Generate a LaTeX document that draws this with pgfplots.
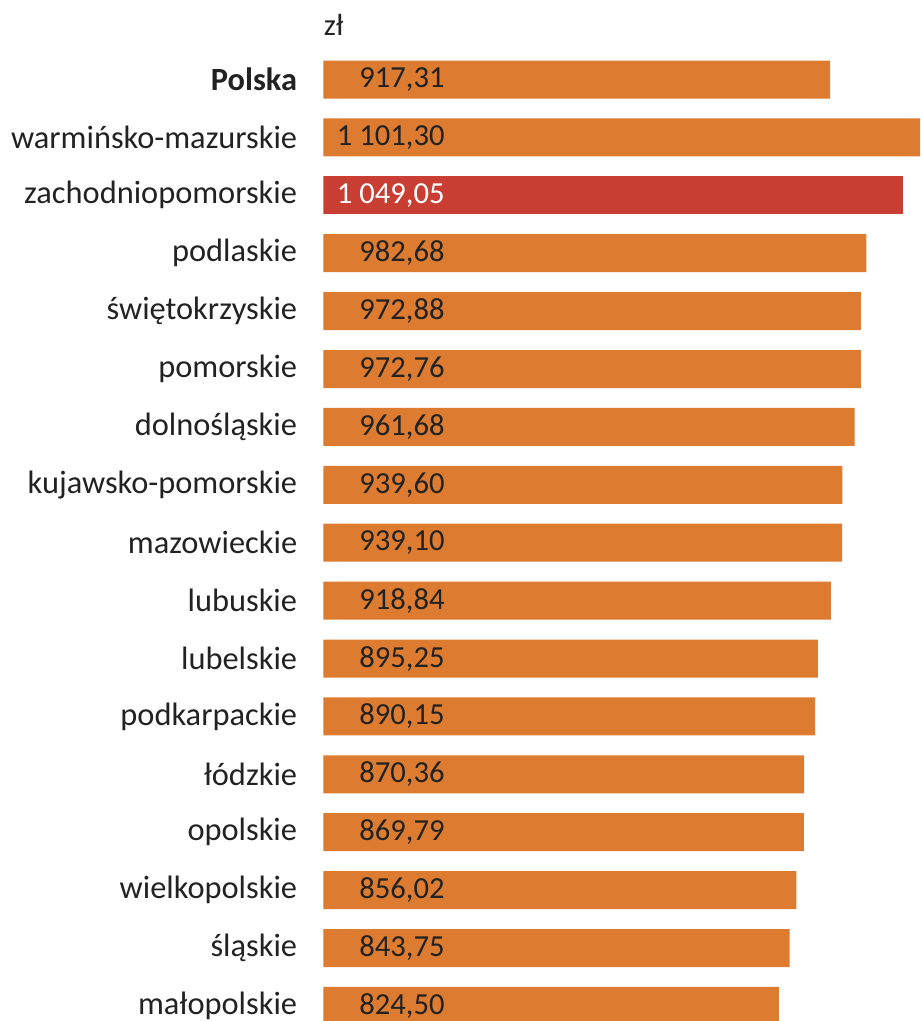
\documentclass[border=0pt]{standalone}
\usepackage{pgfplots}
\pgfplotsset{compat=1.18}
\usepackage{fontspec}
\setmainfont{Carlito}

\definecolor{barorange}{HTML}{DD7C30}
\definecolor{barred}{HTML}{C83E32}
\definecolor{txt}{HTML}{222222}

\newcommand{\lab}{\fontsize{15.3}{18}\selectfont}
\newcommand{\cat}{\fontsize{16.2}{19}\selectfont}

\begin{document}
\begin{tikzpicture}
\begin{axis}[
  name=ax,
  scale only axis,
  width=298.25pt, height=510.5pt,
  xmin=0, xmax=1080,
  ymin=-1.373, ymax=16.26,
  y dir=reverse,
  axis line style={draw=none},
  major tick length=0pt,
  xtick=\empty,
  ytick={0,...,16},
  yticklabels={\textbf{Polska}, warmińsko-mazurskie, zachodniopomorskie, podlaskie,
    świętokrzyskie, pomorskie, dolnośląskie, kujawsko-pomorskie, mazowieckie,
    lubuskie, lubelskie, podkarpackie, łódzkie, opolskie, wielkopolskie,
    śląskie, małopolskie},
  yticklabel style={font=\cat, text=txt, inner sep=0pt, xshift=-13pt},
  clip=true,
]
% bars
\addplot[xbar, bar shift=0pt, bar width=19pt, fill=barorange, draw=none]
  coordinates {(917.31,0) (1101.30,1) (982.68,3) (972.88,4) (972.76,5)
    (961.68,6) (939.60,7) (939.10,8) (918.84,9) (895.25,10) (890.15,11)
    (870.36,12) (869.79,13) (856.02,14) (843.75,15) (824.50,16)};
\addplot[xbar, bar shift=0pt, bar width=19pt, fill=barred, draw=none]
  coordinates {(1049.05,2)};
% value labels inside the bars
\addplot[draw=none, mark=none, point meta=explicit symbolic,
  nodes near coords,
  every node near coord/.style={anchor=east, inner sep=0pt, font=\lab, text=txt}]
  coordinates {(220,0) [917,31] (220,1) [1~101,30] (220,3) [982,68]
    (220,4) [972,88] (220,5) [972,76] (220,6) [961,68] (220,7) [939,60]
    (220,8) [939,10] (220,9) [918,84] (220,10) [895,25] (220,11) [890,15]
    (220,12) [870,36] (220,13) [869,79] (220,14) [856,02] (220,15) [843,75]
    (220,16) [824,50]};
\addplot[draw=none, mark=none, point meta=explicit symbolic,
  nodes near coords,
  every node near coord/.style={anchor=east, inner sep=0pt, font=\lab, text=white}]
  coordinates {(220,2) [1~049,05]};
\node[anchor=west, inner sep=0pt, font=\lab, text=txt] at (axis cs:0,-0.94) {zł};
\end{axis}
\pgfresetboundingbox
\path[use as bounding box] ([xshift=-161.75pt]ax.south west) rectangle (ax.north east);
\end{tikzpicture}
\end{document}
